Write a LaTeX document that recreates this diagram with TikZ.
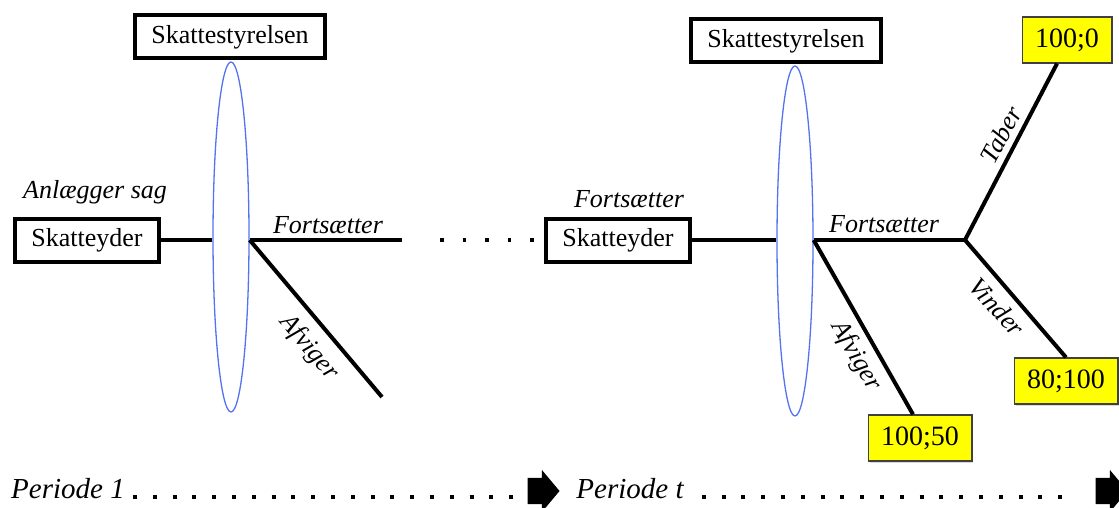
\documentclass[tikz,border=0pt]{standalone}
\usepackage{fontspec}
\setmainfont{Liberation Serif}
\usetikzlibrary{shapes.geometric, shapes.arrows, shadows}
\definecolor{lensblue}{RGB}{85,115,240}
\definecolor{payoffyellow}{RGB}{255,255,0}
\tikzset{
  actor/.style={draw, line width=4pt, fill=white, minimum height=43pt, inner xsep=16pt, font=\fontsize{26}{31}\selectfont},
  payoff/.style={draw=black!75, line width=1.2pt, fill=payoffyellow, minimum height=46pt, inner xsep=13pt, font=\fontsize{28}{33}\selectfont, drop shadow={shadow xshift=1.5pt, shadow yshift=-1.5pt, opacity=0.3}},
  lens/.style={draw=lensblue, line width=1.3pt, ellipse, inner sep=0pt, minimum width=36pt, minimum height=350pt},
  branch/.style={line width=4pt},
  move/.style={font=\fontsize{26}{31}\selectfont\itshape, inner sep=0pt},
  period/.style={font=\fontsize{29}{34}\selectfont\itshape, inner sep=0pt},
  dotrow/.style={line width=3.5pt, dash pattern=on 3.5pt off 19pt},
  timearrow/.style={single arrow, fill=black, inner xsep=0pt, inner ysep=13pt, minimum height=32pt, single arrow head extend=8pt, single arrow tip angle=100}
}
\begin{document}
\begin{tikzpicture}[x=1pt, y=-1pt]
  \useasboundingbox (0,0) rectangle (1119,508);
  % periode 1: (x,y) in pixels from top left
  \node[lens] (e1) at (231,237) {};
  \node[actor] (st1) at (230,37) {Skattestyrelsen};
  \node[actor] (sk1) at (87,240) {Skatteyder};
  \coordinate (f1) at (402,240);
  \coordinate (a1) at (382,397);
  \draw[branch] (sk1.east) -- (sk1.east -| e1.west);
  \draw[branch] (sk1.east -| e1.east) -- (f1);
  \draw[branch] (sk1.east -| e1.east) -- (a1);
  \node[move] (anl) at (95,192) {Anlægger sag};
  \node[move] (fort1) at (328,225) {Fortsætter};
  \node[move, rotate=-50] (afv1) at (309,348) {Afviger};
  \draw[dotrow, shorten >=8pt] ([xshift=38pt]f1) -- (f1 -| 545,0);

  % periode t
  \node[lens] (e2) at (795,241) {};
  \node[actor] (st2) at (786,41) {Skattestyrelsen};
  \node[actor] (sk2) at (618,240) {Skatteyder};
  \node[payoff] (v0) at (1067,40) {100;0};
  \node[payoff] (v80) at (1066,381) {80;100};
  \node[payoff] (v50) at (920,438) {100;50};
  \coordinate (fork) at (965,240);
  \draw[branch] (sk2.east) -- (sk2.east -| e2.west);
  \draw[branch] (sk2.east -| e2.east) -- (fork);
  \draw[branch] (sk2.east -| e2.east) -- ([xshift=-7pt]v50.north);
  \draw[branch] (fork) -- ([xshift=-10pt]v0.south);
  \draw[branch] (fork) -- (v80.north);
  \node[move] (fort0) at (629,199) {Fortsætter};
  \node[move] (fort2) at (884,224) {Fortsætter};
  \node[move, rotate=-60] (afv2) at (856,356) {Afviger};
  \node[move, rotate=62] (tab) at (1001,135) {Taber};
  \node[move, rotate=-48] (vin) at (997,307) {Vinder};

  % tidslinje
  \node[period] (p1) at (68,489) {Periode 1};
  \node[period] (pt) at (630,489) {Periode t};
  \node[timearrow] (ar1) at (538,491) {};
  \node[timearrow] (ar2) at (1106,491) {};
  \draw[dotrow, line width=4pt, dash pattern=on 4pt off 15.8pt, shorten <=8pt, shorten >=10pt]
    ([yshift=2pt]p1.base east) -- ([yshift=2pt]p1.base east -| ar1.west);
  \draw[dotrow, line width=4pt, dash pattern=on 4pt off 15.8pt, shorten <=18pt, shorten >=26pt]
    ([yshift=2pt]pt.base east) -- ([yshift=2pt]pt.base east -| ar2.west);
\end{tikzpicture}
\end{document}
